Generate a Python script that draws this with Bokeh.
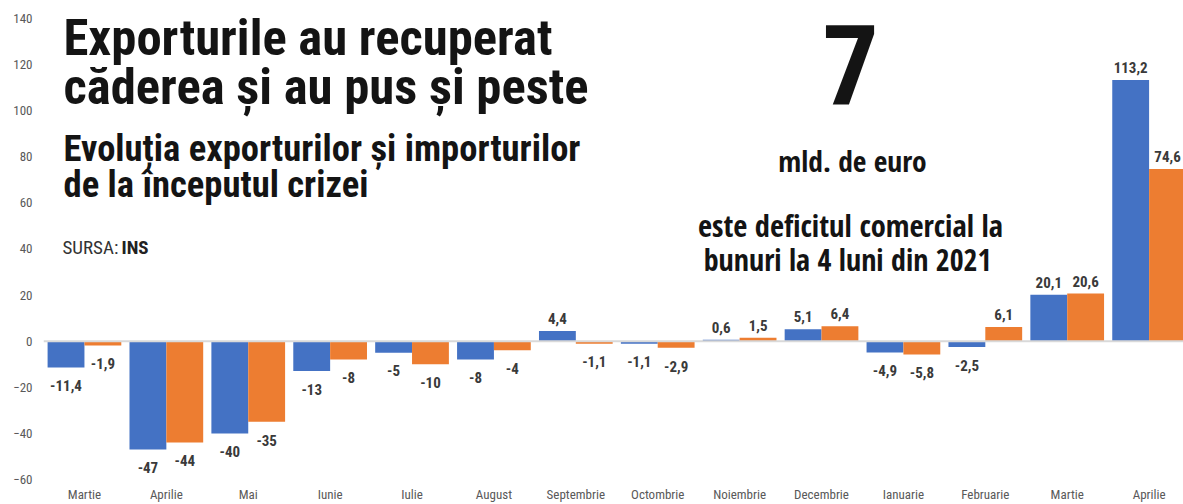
from bokeh.plotting import figure
from bokeh.models import ColumnDataSource, Range1d, FixedTicker, Span, Label
from bokeh.embed import file_html
from bokeh.resources import INLINE
from bokeh.core.properties import value

# ---- data ----
months = ["Martie", "Aprilie", "Mai", "Iunie", "Iulie", "August", "Septembrie",
          "Octombrie", "Noiembrie", "Decembrie", "Ianuarie", "Februarie",
          "Martie", "Aprilie"]
exports = [-11.4, -47, -40, -13, -5, -8, 4.4, -1.1, 0.6, 5.1, -4.9, -2.5, 20.1, 113.2]
imports = [-1.9, -44, -35, -8, -10, -4, -1.1, -2.9, 1.5, 6.4, -5.8, 6.1, 20.6, 74.6]
y_ticks = [-60, -40, -20, 0, 20, 40, 60, 80, 100, 120, 140]

BLUE = "#4472C4"
ORANGE = "#ED7D31"
F_TITLE = "Roboto Condensed"
F_SUB = "Roboto Condensed"
F_RIGHT = "Open Sans Condensed"
F_SMALL = "Roboto Condensed"

W, H = 1183, 504
LEFT, BOTTOM = 43, 20
FRAME_H = H - BOTTOM

p = figure(width=W, height=H, output_backend="svg", toolbar_location=None,
           x_range=Range1d(-0.5, 13.42), y_range=Range1d(-61.3, 147.7),
           min_border_left=LEFT, min_border_right=0, min_border_top=0,
           min_border_bottom=BOTTOM)
p.outline_line_color = None
p.grid.visible = False
p.background_fill_color = "white"
p.border_fill_color = "white"

bw = 0.45
xs = list(range(len(months)))
src_e = ColumnDataSource(dict(x=[i - bw / 2 for i in xs], top=exports))
src_i = ColumnDataSource(dict(x=[i + bw / 2 for i in xs], top=imports))
p.vbar(x="x", top="top", bottom=0, width=bw, source=src_e, fill_color=BLUE, line_color=None)
p.vbar(x="x", top="top", bottom=0, width=bw, source=src_i, fill_color=ORANGE, line_color=None)

p.add_layout(Span(location=0, dimension="width", line_color="#D9D9D9", line_width=2))

def fmt(v):
    return ("%g" % v).replace(".", ",")

pos_x, pos_y, pos_t, neg_x, neg_y, neg_t = [], [], [], [], [], []
for series, off in ((exports, -bw / 2), (imports, bw / 2)):
    for i, v in enumerate(series):
        if v >= 0:
            pos_x.append(i + off); pos_y.append(v + 3.0); pos_t.append(fmt(v))
        else:
            neg_x.append(i + off); neg_y.append(v - 5.5); neg_t.append(fmt(v))

for xx, yy, tt, base in ((pos_x, pos_y, pos_t, "bottom"), (neg_x, neg_y, neg_t, "top")):
    p.text(x=xx, y=yy, text=tt, text_align="center", text_baseline=base,
           text_font=value(F_SMALL), text_font_style="bold", text_font_size="15px",
           text_color="#3a3a3a")

p.xaxis.ticker = FixedTicker(ticks=xs)
p.xaxis.major_label_overrides = {i: m for i, m in enumerate(months)}
p.yaxis.ticker = FixedTicker(ticks=y_ticks)
for ax in (p.xaxis, p.yaxis):
    ax.axis_line_color = None
    ax.major_tick_line_color = None
    ax.minor_tick_line_color = None
    ax.major_tick_out = 0
    ax.major_tick_in = 0
    ax.minor_tick_out = 0
    ax.minor_tick_in = 0
    ax.major_label_text_font = F_SMALL
    ax.major_label_text_font_size = "13px"
    ax.major_label_text_color = "#595959"
p.xaxis.major_label_standoff = 4
p.yaxis.major_label_standoff = 11

K = 0.36  # empirical baseline correction
C = 4

def lab(text, x, baseline, size, font, style="bold", align="left", color="#141414"):
    y_canvas = baseline + C - K * size
    p.add_layout(Label(x=x - LEFT, y=FRAME_H - y_canvas, x_units="screen", y_units="screen",
                       text=text, text_font=font, text_font_style=style,
                       text_font_size="%gpx" % size, text_align=align,
                       text_baseline="alphabetic", text_color=color))

lab("Exporturile au recuperat", 63, 53, 50.7, F_TITLE)
lab("căderea și au pus și peste", 63, 102, 50.7, F_TITLE)
lab("Evoluția exporturilor și importurilor", 63, 159, 36.6, F_SUB)
lab("de la începutul crizei", 63, 195, 36.6, F_SUB)
lab("SURSA:", 62, 252, 19, F_SUB, style="normal", color="#333333")
lab("INS", 121, 252, 19, F_SUB, color="#222222")
lab("7", 850, 103, 112, F_TITLE, align="center")
lab("mld. de euro", 852, 169, 29.5, F_RIGHT, align="center")
lab("este deficitul comercial la", 850, 233, 30.5, F_RIGHT, align="center")
lab("bunuri la 4 luni din 2021", 847, 268, 30, F_RIGHT, align="center")

open("out.html", "w").write(file_html(p, INLINE))
